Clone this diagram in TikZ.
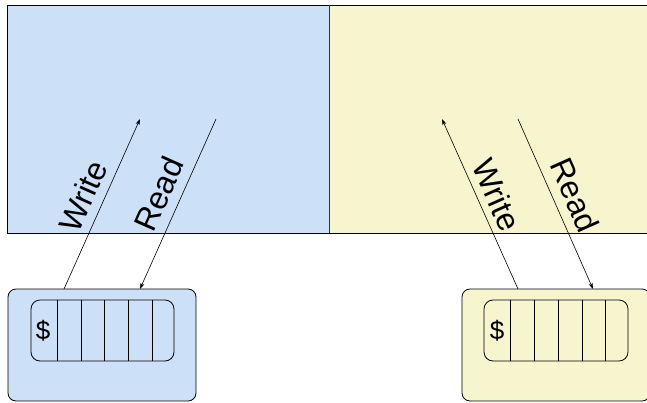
\documentclass[tikz,border=0pt]{standalone}
\usepackage{fontspec}
\setmainfont{Liberation Sans}
\usetikzlibrary{arrows.meta}
\definecolor{pblue}{HTML}{CCE0F7}
\definecolor{pyellow}{HTML}{F7F5CE}
\begin{document}
\begin{tikzpicture}[x=1pt,y=-1pt,
  region/.style={draw=black,line width=1pt},
  cachebox/.style={draw=black,line width=0.8pt,rounded corners=8pt},
  slot/.style={draw=black,line width=0.8pt,rounded corners=9pt},
  conn/.style={line width=0.6pt,-{Stealth[length=6pt,width=4pt,inset=1.5pt]}},
  lab/.style={font=\fontsize{32}{32}\selectfont,inner sep=0pt},
  dollar/.style={font=\fontsize{26}{26}\selectfont,inner sep=0pt}]
\useasboundingbox (0,0) rectangle (647,402);
% regions
\fill[pblue] (7,5) rectangle (329,233);
\fill[pyellow] (329,5) rectangle (648,233);
\node[inner sep=0pt,minimum width=322pt,minimum height=228pt] (memA) at (168,119) {};
\node[inner sep=0pt,minimum width=319pt,minimum height=228pt] (memB) at (488.5,119) {};
\draw[region] (7,233) -- (7,5) -- (648,5);
\draw[region] (7,233) -- (648,233);
\draw[region,draw=black!80] (329,5) -- (329,233);
% cache boxes
\node[cachebox,fill=pblue,minimum width=188pt,minimum height=112pt,inner sep=0pt] (cacheA) at (102,345) {};
\node[cachebox,fill=pyellow,minimum width=188pt,minimum height=112pt,inner sep=0pt] (cacheB) at (556,345) {};
% slot rows
\node[slot,minimum width=143pt,minimum height=61pt,inner sep=0pt] (rowA) at (102.5,330.5) {};
\node[slot,minimum width=144pt,minimum height=61pt,inner sep=0pt] (rowB) at (556,330.5) {};
\foreach \x in {57,81,104,128,152}{\draw[line width=0.8pt] (\x,300) -- (\x,361);}
\foreach \x in {510,534,558,582,605}{\draw[line width=0.8pt] (\x,300) -- (\x,361);}
\node[dollar] (dA) at (43,331) {\$};
\node[dollar] (dB) at (497,331) {\$};
% connector ends
\coordinate (wA1) at (64,289); \coordinate (wA2) at (140,119);
\coordinate (rA1) at (216,119); \coordinate (rA2) at (140,289);
\coordinate (wB1) at (518,289); \coordinate (wB2) at (442,119);
\coordinate (rB1) at (518,119); \coordinate (rB2) at (593,289);
\draw[conn] (wA1) -- (wA2);
\draw[conn] (rA1) -- (rA2);
\draw[conn] (wB1) -- (wB2);
\draw[conn] (rB1) -- (rB2);
% labels
\node[lab,rotate=66] (lwA) at (83,196) {Write};
\node[lab,rotate=66] (lrA) at (159,194) {Read};
\node[lab,rotate=-66] (lwB) at (497,195) {Write};
\node[lab,rotate=-66] (lrB) at (575,195) {Read};
\end{tikzpicture}
\end{document}
